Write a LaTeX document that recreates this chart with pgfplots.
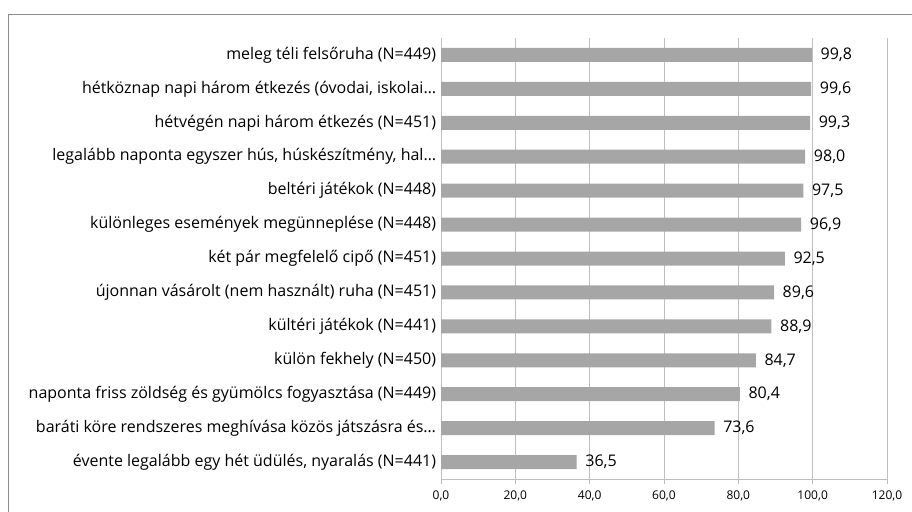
\documentclass[border=0pt]{standalone}
\usepackage{fontspec}
\setmainfont{Open Sans}
\usepackage{pgfplots}
\pgfplotsset{compat=1.18}

\definecolor{barfill}{HTML}{A6A6A6}
\definecolor{gridc}{HTML}{BFBFBF}
\definecolor{framec}{HTML}{8C8C8C}

\begin{document}
\begin{tikzpicture}
  % page = 912 x 511 px, 1 px = 0.75 pt
  \path[use as bounding box] (0pt,0pt) rectangle (684pt,383.25pt);
  \draw[framec, line width=0.75pt] (6pt,-4pt) -- (6pt,372.5pt) -- (690pt,372.5pt);
  \begin{axis}[
      at={(330.75pt,24pt)}, anchor=south west,
      scale only axis,
      width=334.5pt, height=330.75pt,
      xbar,
      bar width=10.5pt,
      xmin=0, xmax=120,
      xtick={0,20,...,120},
      ymin=-0.5, ymax=12.5,
      y dir=reverse,
      ytick={0,...,12},
      minor ytick={-0.5,0.5,...,12.5},
      yticklabels={
        meleg téli felsőruha (N=449),
        {hétköznap napi három étkezés (óvodai, iskolai…},
        hétvégén napi három étkezés (N=451),
        {legalább naponta egyszer hús, húskészítmény, hal…},
        beltéri játékok (N=448),
        különleges események megünneplése (N=448),
        két pár megfelelő cipő (N=451),
        újonnan vásárolt (nem használt) ruha (N=451),
        kültéri játékok (N=441),
        külön fekhely (N=450),
        naponta friss zöldség és gyümölcs fogyasztása (N=449),
        baráti köre rendszeres meghívása közös játszásra és…,
        {évente legalább egy hét üdülés, nyaralás (N=441)}
      },
      axis x line*=bottom,
      axis y line*=left,
      axis line style={draw=gridc, line width=0.75pt, -},
      xmajorgrids,
      grid style={draw=gridc, line width=0.75pt},
      tick align=outside,
      xtick pos=bottom,
      ytick pos=left,
      major tick length=4pt,
      ytick style={draw=none},
      minor tick length=4pt,
      minor tick style={draw=gridc, line width=0.75pt},
      xtick style={draw=gridc, line width=0.75pt},
      x tick label style={
        font=\fontsize{9}{10}\selectfont, yshift=-1.5pt,
        /pgf/number format/.cd, fixed, fixed zerofill, precision=1, use comma,
        assume math mode=true},
      y tick label style={font=\fontsize{12}{14}\selectfont, inner xsep=2pt, xshift=2.5pt},
      nodes near coords,
      nodes near coords align={horizontal},
      point meta=explicit symbolic,
      every node near coord/.append style={
        font=\fontsize{12}{14}\selectfont, anchor=west, xshift=3pt},
    ]
    \addplot[fill=barfill, draw=none] coordinates {
      (99.8,0)  [99,8]
      (99.6,1)  [99,6]
      (99.3,2)  [99,3]
      (98.0,3)  [98,0]
      (97.5,4)  [97,5]
      (96.9,5)  [96,9]
      (92.5,6)  [92,5]
      (89.6,7)  [89,6]
      (88.9,8)  [88,9]
      (84.7,9)  [84,7]
      (80.4,10) [80,4]
      (73.6,11) [73,6]
      (36.5,12) [36,5]
    };
  \end{axis}
\end{tikzpicture}
\end{document}
